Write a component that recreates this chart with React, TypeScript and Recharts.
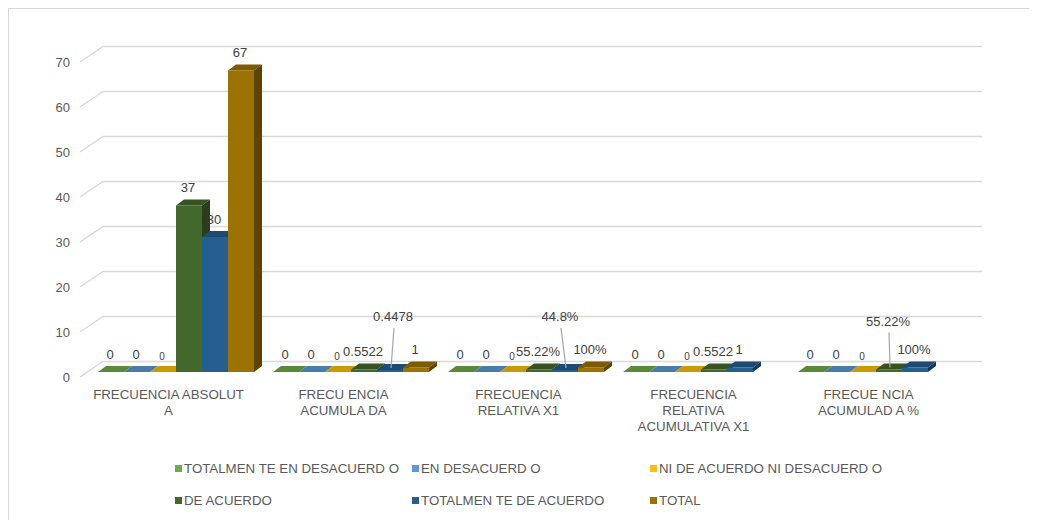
import React from 'react'
import { BarChart, Bar, XAxis, YAxis, CartesianGrid, LabelList } from 'recharts'

const categories = [
  'FRECUENCIA ABSOLUTA',
  'FRECUENCIA ACUMULADA',
  'FRECUENCIA RELATIVA X1',
  'FRECUENCIA RELATIVA ACUMULATIVA X1',
  'FRECUENCIA ACUMULADA %',
]
const categoryLines = [
  ['FRECUENCIA ABSOLUT', 'A'],
  ['FRECU ENCIA', 'ACUMULA DA'],
  ['FRECUENCIA', 'RELATIVA X1'],
  ['FRECUENCIA', 'RELATIVA', 'ACUMULATIVA X1'],
  ['FRECUE NCIA', 'ACUMULAD A %'],
]
const percentCategories = [false, false, true, false, true]

const totalmenteEnDesacuerdo = [0, 0, 0, 0, 0]
const enDesacuerdo = [0, 0, 0, 0, 0]
const niDeAcuerdo = [0, 0, 0, 0, 0]
const deAcuerdo = [37, 0.5522, 0.5522, 0.5522, 0.5522]
const totalmenteDeAcuerdo = [30, 0.4478, 0.448, 1, 1]
const total: (number | null)[] = [67, 1, 1, null, null]

const yTicks = [0, 10, 20, 30, 40, 50, 60, 70]

// labels that Excel pushed up with a leader line
const liftedLabels = [
  { category: 1, key: 'tda', dx: 3, lift: 35 },
  { category: 2, key: 'tda', dx: -5, lift: 35 },
  { category: 4, key: 'da', dx: -1, lift: 30 },
]

const FONT = '"Liberation Sans", Arial, sans-serif'
const TEXT = '#595959'
const LABEL = '#404040'

const series = [
  { key: 'ted', name: 'TOTALMEN TE EN DESACUERD O', color: '#70AD47', values: totalmenteEnDesacuerdo },
  { key: 'ed', name: 'EN DESACUERD O', color: '#5B9BD5', values: enDesacuerdo },
  { key: 'nd', name: 'NI DE ACUERDO NI DESACUERD O', color: '#FFC000', values: niDeAcuerdo },
  { key: 'da', name: 'DE ACUERDO', color: '#43682B', values: deAcuerdo },
  { key: 'tda', name: 'TOTALMEN TE DE ACUERDO', color: '#255E91', values: totalmenteDeAcuerdo },
  { key: 'tot', name: 'TOTAL', color: '#9C7200', values: total },
]

const chartData = categories.map((c, i) => {
  const row: any = { category: c }
  series.forEach(s => {
    row[s.key] = s.values[i]
  })
  return row
})

const shade = (hex: string, f: number) => {
  const n = parseInt(hex.slice(1), 16)
  const r = Math.round(((n >> 16) & 255) * f)
  const g = Math.round(((n >> 8) & 255) * f)
  const b = Math.round((n & 255) * f)
  return `rgb(${r},${g},${b})`
}

// bar front sits a bit behind the axis plane
const SHIFT_X = 4
const SHIFT_Y = -5
const DEPTH_X = 8
const DEPTH_Y = 6
const GRID_RIGHT = 973

const formatValue = (v: number, cat: number) => {
  if (v === 0) return '0'
  if (percentCategories[cat]) {
    return `${Math.round(v * 10000) / 100}%`
  }
  return `${v}`
}

const makeShape = (key: string, color: string) => (p: any) => {
  if (p.payload == null || p.payload[key] == null) return <g />
  const x = p.x + SHIFT_X
  const y = p.y + SHIFT_Y
  const w = p.width
  const h = Math.max(p.height, 0)
  return (
    <g>
      <rect x={x} y={y} width={w} height={h} fill={color} />
      <path
        d={`M${x},${y} L${x + w},${y} L${x + w + DEPTH_X},${y - DEPTH_Y} L${x + DEPTH_X},${y - DEPTH_Y} Z`}
        fill={shade(color, 0.8)}
      />
      <path
        d={`M${x + w},${y} L${x + w + DEPTH_X},${y - DEPTH_Y} L${x + w + DEPTH_X},${y + h - DEPTH_Y} L${x + w},${y + h} Z`}
        fill={shade(color, 0.6)}
      />
    </g>
  )
}

const makeLabel = (key: string, small: boolean) => (p: any) => {
  const idx = p.index
  const v = chartData[idx]?.[key]
  if (v == null) return null
  const box = p.viewBox && p.viewBox.width != null ? p.viewBox : p
  const cx = box.x + box.width / 2 + SHIFT_X
  const top = box.y + SHIFT_Y
  const lifted = liftedLabels.find(l => l.category === idx && l.key === key)
  const text = formatValue(v, idx)
  if (lifted) {
    const ly = top - 18 - lifted.lift
    return (
      <g>
        <line x1={cx + lifted.dx + 1} y1={ly + 11} x2={cx + 1} y2={top - 2} stroke="#a6a6a6" strokeWidth={1.2} />
        <text x={cx + lifted.dx} y={ly} textAnchor="middle" dominantBaseline="central" fontSize={13} fill={LABEL} fontFamily={FONT}>
          {text}
        </text>
      </g>
    )
  }
  return (
    <text
      x={cx - 1}
      y={small ? top - 16 : top - 18}
      textAnchor="middle"
      dominantBaseline="central"
      fontSize={small ? 10 : 13}
      fill={LABEL}
      fontFamily={FONT}
    >
      {text}
    </text>
  )
}

const gridLine = (p: any) => {
  const { x1, y1 } = p
  const by = y1 - 15.5
  return (
    <path
      key={`g-${p.index}-${y1}`}
      d={`M${x1 - 4},${y1} L${x1 + 19},${by} L${GRID_RIGHT},${by}`}
      fill="none"
      stroke="#d9d9d9"
      strokeWidth={1.4}
    />
  )
}

const CategoryTick = (p: any) => {
  const lines = categoryLines[p.index] || [String(p.payload?.value)]
  return (
    <text x={p.x - 3} y={p.y + 9} textAnchor="middle" fontSize={13.3} fill={TEXT} fontFamily={FONT}>
      {lines.map((l, i) => (
        <tspan key={i} x={p.x - 3} dy={i === 0 ? '0.35em' : 16}>
          {l}
        </tspan>
      ))}
    </text>
  )
}

const legendColumns = [166, 403, 641]
const legendRows = [459, 491]

export default function App() {
  return (
    <div
      style={{
        position: 'relative',
        width: 1029,
        height: 512,
        borderTop: '1px solid #d9d9d9',
        borderLeft: '1px solid #d9d9d9',
        boxSizing: 'border-box',
        fontFamily: FONT,
        background: '#fff',
      }}
    >
      <BarChart
        width={1021}
        height={505}
        data={chartData}
        margin={{ top: 53, right: 71, left: 1, bottom: 77 }}
        barGap={0}
        barSize={26}
      >
        <CartesianGrid horizontal={gridLine} vertical={false} />
        <XAxis
          dataKey="category"
          interval={0}
          height={60}
          axisLine={false}
          tickLine={false}
          tick={<CategoryTick />}
        />
        <YAxis
          domain={[0, 70]}
          ticks={yTicks}
          width={74}
          axisLine={false}
          tickLine={false}
          tickMargin={8}
          tick={{ fontSize: 13, fill: TEXT, fontFamily: FONT }}
        />
        {series.map(s => (
          <Bar
            key={s.key}
            dataKey={s.key}
            name={s.name}
            fill={s.color}
            isAnimationActive={false}
            shape={makeShape(s.key, s.color)}
          >
            <LabelList dataKey={s.key} content={makeLabel(s.key, s.key === 'nd')} />
          </Bar>
        ))}
      </BarChart>
      {series.map((s, i) => (
        <div
          key={s.key}
          style={{
            position: 'absolute',
            left: legendColumns[i % 3],
            top: legendRows[Math.floor(i / 3)] - 8,
            height: 16,
            display: 'flex',
            alignItems: 'center',
            fontSize: 13.3,
            color: TEXT,
            whiteSpace: 'nowrap',
          }}
        >
          <span style={{ display: 'inline-block', width: 7, height: 7, background: s.color, marginRight: 2 }} />
          {s.name}
        </div>
      ))}
    </div>
  )
}
